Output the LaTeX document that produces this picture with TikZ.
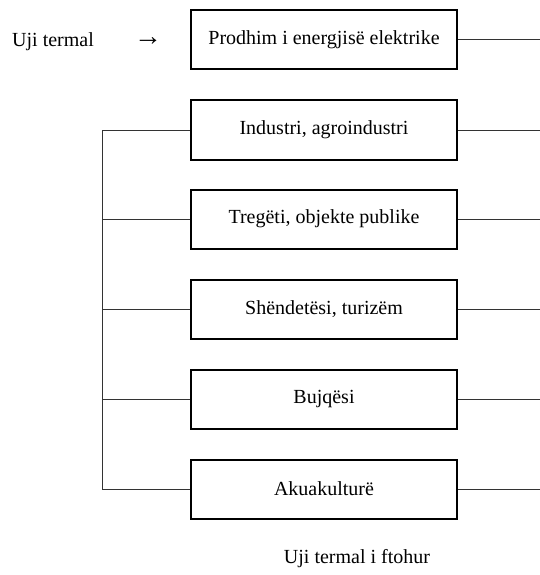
\documentclass[tikz,border=0pt]{standalone}
\usepackage{fontspec}
\setmainfont{Liberation Serif}
\begin{document}
\begin{tikzpicture}[x=1pt,y=-1pt,
  box/.style={draw, line width=2pt, minimum width=266pt, minimum height=59pt, inner sep=0pt, font=\fontsize{20}{24}\selectfont},
  conn/.style={line width=1pt, draw=black!80},
  lbl/.style={inner sep=0pt, font=\fontsize{20}{24}\selectfont}]
\useasboundingbox (0,0) rectangle (540,575);
\node[box] (b1) at (324,40) {Prodhim i energjisë elektrike};
\node[box] (b2) at (324,130) {Industri, agroindustri};
\node[box] (b3) at (324,219) {Tregëti, objekte publike};
\node[box] (b4) at (324,309) {Shëndetësi, turizëm};
\node[box] (b5) at (324,399) {Bujqësi};
\node[box] (b6) at (324,489) {Akuakulturë};
\node[lbl, anchor=west] (uji) at (12,42) {Uji termal};
\node[lbl, font=\fontsize{28}{30}\selectfont] (arr) at (148,42) {→};
\node[lbl] (ftohur) at (357,559) {Uji termal i ftohur};
\foreach \b in {b1,b2,b3,b4,b5,b6}{
  \coordinate (r\b) at ([xshift=83pt]\b.east);
  \draw[conn] (\b.east) -- (r\b);
}
\foreach \b in {b2,b3,b4,b5,b6}{
  \coordinate (l\b) at ([xshift=-88pt]\b.west);
  \draw[conn] (\b.west) -- (l\b);
}
\draw[conn] (lb2) -- (lb6);
\end{tikzpicture}
\end{document}
